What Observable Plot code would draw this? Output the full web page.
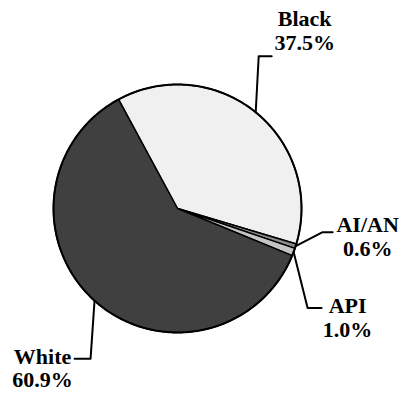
<!DOCTYPE html>
<html><head><meta charset="utf-8">
<script src="https://cdn.jsdelivr.net/npm/d3@7"></script>
<script src="https://cdn.jsdelivr.net/npm/@observablehq/plot@0.6"></script>
<style>body{margin:0;background:#fff}</style>
</head><body><div id="chart"></div>
<script>
// ---- data ----
const categories = ["Black", "AI/AN", "API", "White"];
const shares = [37.5, 0.6, 1.0, 60.9];
const shareLabels = ["37.5%", "0.6%", "1.0%", "60.9%"];
const sliceColors = ["#f0f0f0", "#8a8a8a", "#c4c4c4", "#404040"];

// ---- layout ----
const W = 399, H = 393;
const cx = 177, cy = 208, R = 124;
const startDeg = -28.4; // clockwise from 12 o'clock
// leader: elbow offset from edge point, horizontal run, text center offset from run end, baselines
const leaderLayout = {
  "Black": {elbow: [3, -56], run: 13, tx: 33, base: [-30, -6]},
  "AI/AN": {elbow: [27, -14], run: 10, tx: 35, base: [0, 24]},
  "API":   {elbow: [14, 56], run: 14, tx: 26, base: [5, 29]},
  "White": {elbow: [-4, 58], run: -16, tx: -32, base: [5, 28]}
};

// convert pixel offsets to data units (1 unit = radius)
const toX = px => (px - cx) / R;
const toY = py => (cy - py) / R;

const total = d3.sum(shares);
let acc = startDeg;
const slicePolys = [];
const leaders = [];
const texts = [];
const fs = 22;
categories.forEach((c, i) => {
  const a0 = acc, a1 = acc + shares[i] / total * 360;
  acc = a1;
  const pts = [{x: 0, y: 0}];
  const n = Math.max(4, Math.ceil((a1 - a0) / 0.5));
  for (let k = 0; k <= n; k++) {
    const a = (a0 + (a1 - a0) * k / n) * Math.PI / 180;
    pts.push({x: Math.sin(a), y: Math.cos(a)});
  }
  pts.push({x: 0, y: 0});
  slicePolys.push({pts, color: sliceColors[i]});
  const am = (a0 + a1) / 2 * Math.PI / 180;
  const sx = cx + R * Math.sin(am), sy = cy - R * Math.cos(am);
  const L = leaderLayout[c];
  const ex = sx + L.elbow[0], ey = sy + L.elbow[1];
  const rx = ex + L.run;
  leaders.push({k: c, x: toX(sx), y: toY(sy)}, {k: c, x: toX(ex), y: toY(ey)}, {k: c, x: toX(rx), y: toY(ey)});
  const tcx = rx + L.tx;
  texts.push({x: toX(tcx), y: toY(ey + L.base[0] - 0.32 * fs), t: c});
  texts.push({x: toX(tcx), y: toY(ey + L.base[1] - 0.32 * fs), t: shareLabels[i]});
});

const marks = [];
slicePolys.forEach(s => marks.push(Plot.line(s.pts, {x: "x", y: "y", fill: s.color, stroke: "#000", strokeWidth: 1.5, strokeLinejoin: "miter"})));
// outer outline
marks.push(Plot.line(d3.range(0, 361).map(d => ({x: Math.sin(d * Math.PI / 180), y: Math.cos(d * Math.PI / 180)})), {x: "x", y: "y", stroke: "#000", strokeWidth: 2}));
marks.push(Plot.line(leaders, {x: "x", y: "y", z: "k", stroke: "#000", strokeWidth: 2}));
marks.push(Plot.text(texts, {x: "x", y: "y", text: "t", fontSize: fs, fontWeight: "bold", fontFamily: "'Liberation Serif', 'Times New Roman', serif", textAnchor: "middle", fill: "#000"}));

const chart = Plot.plot({
  width: W, height: H,
  margin: 0,
  x: {domain: [toX(0), toX(W)], range: [0, W], axis: null},
  y: {domain: [toY(H), toY(0)], range: [H, 0], axis: null},
  style: {background: "#fff"},
  marks
});
document.getElementById("chart").appendChild(chart);
</script>
</body></html>
